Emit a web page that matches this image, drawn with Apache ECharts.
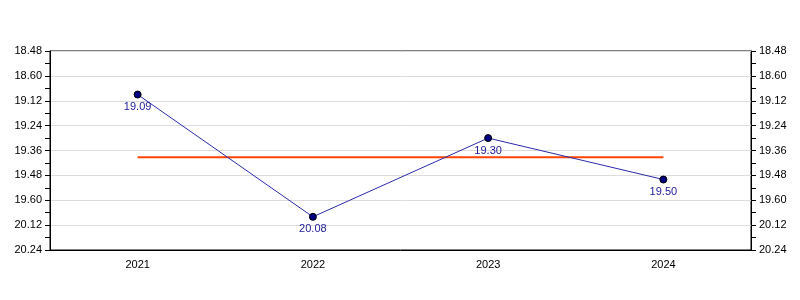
<!DOCTYPE html>
<html>
<head>
<meta charset="utf-8">
<script src="https://cdn.jsdelivr.net/npm/echarts@6/dist/echarts.min.js"></script>
<style>html,body{margin:0;padding:0;background:#fff}#c{width:800px;height:300px}</style>
</head>
<body>
<div id="c"></div>
<script>
// Categories (years)
var categories = ['2021', '2022', '2023', '2024'];
// Times written as minutes.seconds
var timeLabels = ['19.09', '20.08', '19.30', '19.50'];
// Same times in seconds (19:09 = 1149 s ...)
var timeSeconds = [1149, 1208, 1170, 1190];
// Average line value (seconds)
var averageSeconds = [1179.25, 1179.25, 1179.25, 1179.25];
// Y axis range in seconds (18:48 .. 20:24), tick step 12 s
var yMin = 1128, yMax = 1224, yStep = 12;

function fmtTick(v) {
  var m = Math.floor(v / 60), s = Math.round(v - m * 60);
  if (s === 0) { m -= 1; s = 60; }
  return m + '.' + (s < 10 ? '0' + s : s);
}

var chart = echarts.init(document.getElementById('c'), null, {renderer: 'canvas'});
var font = 'Liberation Sans, Arial, sans-serif';
var yAxisCommon = {
  type: 'value', inverse: true, min: yMin, max: yMax, interval: yStep,
  axisLine: {show: true, lineStyle: {color: '#000', width: 1}},
  axisTick: {show: true, length: 5, lineStyle: {color: '#000'}},
  minorTick: {show: true, splitNumber: 2, length: 5, lineStyle: {color: '#000'}},
  axisLabel: {formatter: fmtTick, color: '#000', fontSize: 11, fontFamily: font, margin: 8}
};
chart.setOption({
  animation: false,
  grid: {left: 50, right: 49, top: 51, bottom: 50, show: true, borderColor: '#000', borderWidth: 1, backgroundColor: 'transparent'},
  xAxis: {
    type: 'category', data: categories, boundaryGap: true,
    axisLine: {lineStyle: {color: '#000'}},
    axisTick: {alignWithLabel: true, length: 5, lineStyle: {color: '#000'}},
    axisLabel: {color: '#000', fontSize: 11, fontFamily: font, margin: 9},
    splitLine: {show: false}
  },
  yAxis: [
    Object.assign({}, yAxisCommon, {position: 'left', splitLine: {show: true, lineStyle: {color: '#dcdcdc', width: 1}}}),
    Object.assign({}, yAxisCommon, {position: 'right', splitLine: {show: false}})
  ],
  series: [
    {
      type: 'line', data: averageSeconds, yAxisIndex: 0, symbol: 'none',
      lineStyle: {color: '#ff4500', width: 2}, z: 2, silent: true
    },
    {
      type: 'line', data: timeSeconds, yAxisIndex: 0,
      symbol: 'circle', symbolSize: 7,
      itemStyle: {color: '#000080', borderColor: '#000', borderWidth: 1},
      lineStyle: {color: '#2a2aa8', width: 1},
      label: {
        show: true, position: 'bottom', distance: 3,
        formatter: function (p) { return timeLabels[p.dataIndex]; },
        color: '#1a1a99', fontSize: 11, fontFamily: font
      },
      z: 3
    }
  ]
});
</script>
</body>
</html>
